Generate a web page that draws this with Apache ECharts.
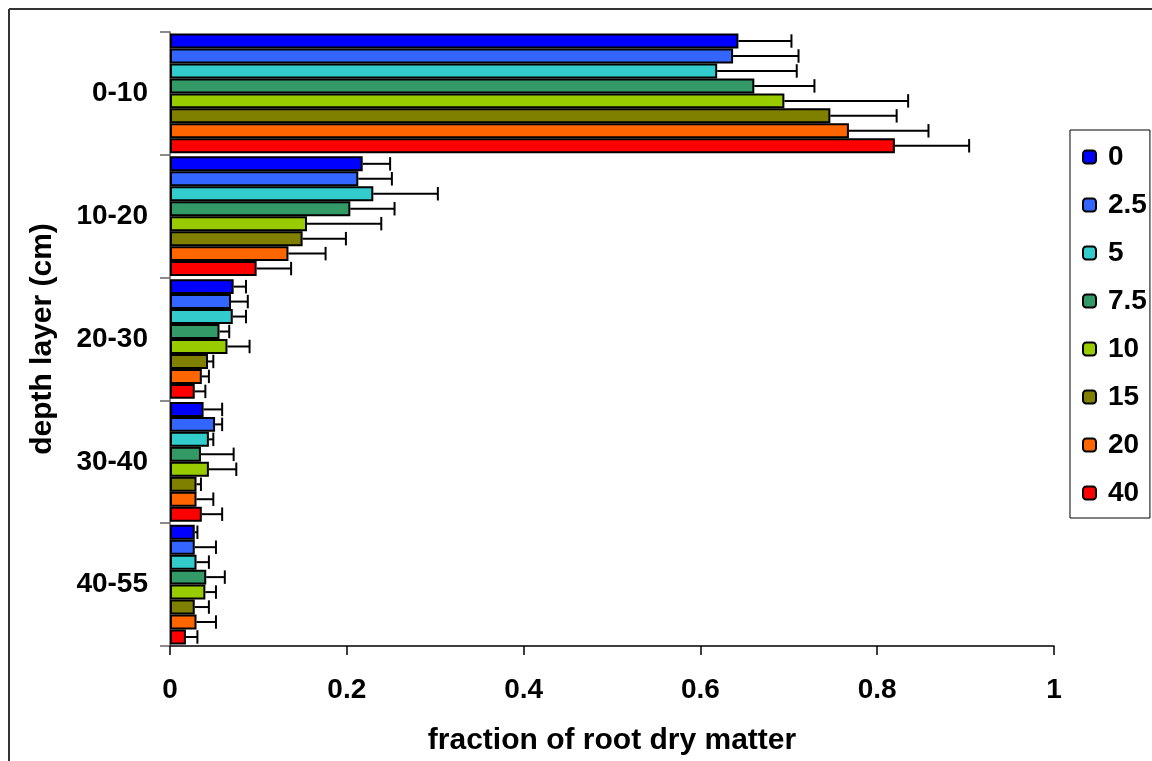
<!DOCTYPE html>
<html>
<head>
<meta charset="utf-8">
<script src="https://cdn.jsdelivr.net/npm/echarts@6/dist/echarts.min.js"></script>
<style>html,body{margin:0;padding:0;background:#fff}#c{width:1152px;height:761px}</style>
</head>
<body>
<div id="c"></div>
<script>
var categories = ['0-10', '10-20', '20-30', '30-40', '40-55'];
var seriesNames = ['0', '2.5', '5', '7.5', '10', '15', '20', '40'];
var colors = ['#0000FF', '#3366FF', '#33CCCC', '#339966', '#99CC00', '#808000', '#FF6600', '#FF0000'];
var xTicks = ['0', '0.2', '0.4', '0.6', '0.8', '1'];

var mean0   = [0.643, 0.218, 0.072, 0.038, 0.028];
var mean2_5 = [0.637, 0.213, 0.069, 0.051, 0.028];
var mean5   = [0.619, 0.230, 0.071, 0.044, 0.030];
var mean7_5 = [0.661, 0.204, 0.056, 0.035, 0.041];
var mean10  = [0.695, 0.155, 0.065, 0.044, 0.040];
var mean15  = [0.747, 0.150, 0.043, 0.030, 0.028];
var mean20  = [0.768, 0.134, 0.036, 0.030, 0.030];
var mean40  = [0.820, 0.098, 0.028, 0.036, 0.018];

var err0   = [0.060, 0.031, 0.014, 0.021, 0.003];
var err2_5 = [0.074, 0.038, 0.019, 0.008, 0.024];
var err5   = [0.090, 0.073, 0.015, 0.005, 0.014];
var err7_5 = [0.068, 0.050, 0.011, 0.037, 0.021];
var err10  = [0.140, 0.084, 0.025, 0.031, 0.012];
var err15  = [0.075, 0.049, 0.006, 0.005, 0.016];
var err20  = [0.090, 0.042, 0.008, 0.019, 0.022];
var err40  = [0.084, 0.039, 0.012, 0.023, 0.013];

var means = [mean0, mean2_5, mean5, mean7_5, mean10, mean15, mean20, mean40];
var errs = [err0, err2_5, err5, err7_5, err10, err15, err20, err40];

var GAP = 0.025;
var FONT = 'Liberation Sans, Arial, sans-serif';
var FS = 28;
var FS_NAME = 30;

var series = seriesNames.map(function (n, i) {
  return {
    name: n,
    type: 'bar',
    barGap: '0%',
    barCategoryGap: (GAP * 100) + '%',
    itemStyle: { color: colors[i], borderColor: '#000', borderWidth: 2 },
    data: means[i],
    z: 2
  };
});

var errData = [];
for (var s = 0; s < seriesNames.length; s++) {
  for (var c = 0; c < categories.length; c++) {
    errData.push([c, s, means[s][c], errs[s][c]]);
  }
}

series.push({
  type: 'custom',
  z: 3,
  silent: true,
  encode: { x: 2, y: 0 },
  data: errData,
  renderItem: function (params, api) {
    var c = api.value(0), s = api.value(1), m = api.value(2), e = api.value(3);
    var p0 = api.coord([m, c]);
    var p1 = api.coord([m + e, c]);
    var band = api.size([0, 1])[1];
    var total = band * (1 - GAP);
    var bh = total / seriesNames.length;
    var y = p0[1] - total / 2 + (s + 0.5) * bh;
    var capH = bh * 0.9;
    var st = { stroke: '#000', lineWidth: 2 };
    return {
      type: 'group',
      children: [
        { type: 'line', shape: { x1: p0[0], y1: y, x2: p1[0], y2: y }, style: st },
        { type: 'line', shape: { x1: p1[0], y1: y - capH / 2, x2: p1[0], y2: y + capH / 2 }, style: st }
      ]
    };
  }
});

var chart = echarts.init(document.getElementById('c'), null, { renderer: 'canvas' });
chart.setOption({
  animation: false,
  backgroundColor: '#fff',
  textStyle: { fontFamily: FONT },
  grid: { left: 170, right: 98, top: 32, bottom: 115 },
  legend: {
    orient: 'vertical',
    left: 1070,
    top: 130,
    data: seriesNames,
    itemWidth: 13,
    itemHeight: 13,
    itemGap: 20,
    padding: [13, 3, 11, 12],
    borderColor: '#000',
    borderWidth: 1,
    selectedMode: false,
    textStyle: { fontSize: FS, fontWeight: 'bold', color: '#000', lineHeight: 28, fontFamily: FONT, padding: [0, 0, 0, 7] }
  },
  xAxis: {
    type: 'value',
    min: 0,
    max: 1,
    interval: 0.2,
    name: 'fraction of root dry matter',
    nameLocation: 'middle',
    nameGap: 80,
    nameTextStyle: { fontSize: FS_NAME, fontWeight: 'bold', color: '#000', fontFamily: FONT },
    axisLine: { show: true, lineStyle: { color: '#000', width: 1.5 } },
    axisTick: { show: true, length: 9, inside: false, lineStyle: { color: '#000', width: 1.5 } },
    splitLine: { show: false },
    axisLabel: {
      margin: 30,
      fontSize: FS,
      fontWeight: 'bold',
      color: '#000',
      fontFamily: FONT,
      formatter: function (v) { return xTicks[Math.round(v / 0.2)]; }
    }
  },
  yAxis: {
    type: 'category',
    data: categories,
    inverse: true,
    name: 'depth layer (cm)',
    nameLocation: 'middle',
    nameGap: 112,
    nameRotate: 90,
    nameTextStyle: { fontSize: FS_NAME, fontWeight: 'bold', color: '#000', fontFamily: FONT },
    axisLine: { show: true, onZero: false, lineStyle: { color: '#666', width: 1.5 } },
    axisTick: { show: true, length: 10, alignWithLabel: false, lineStyle: { color: '#666', width: 1.5 } },
    axisLabel: { margin: 22, fontSize: FS, fontWeight: 'bold', color: '#000', fontFamily: FONT, padding: [4, 0, 0, 0] }
  },
  graphic: [
    { type: 'line', shape: { x1: 9, y1: 9, x2: 1152, y2: 9 }, style: { stroke: '#333', lineWidth: 2 } },
    { type: 'line', shape: { x1: 9, y1: 9, x2: 9, y2: 761 }, style: { stroke: '#333', lineWidth: 2 } }
  ],
  series: series
});
</script>
</body>
</html>
